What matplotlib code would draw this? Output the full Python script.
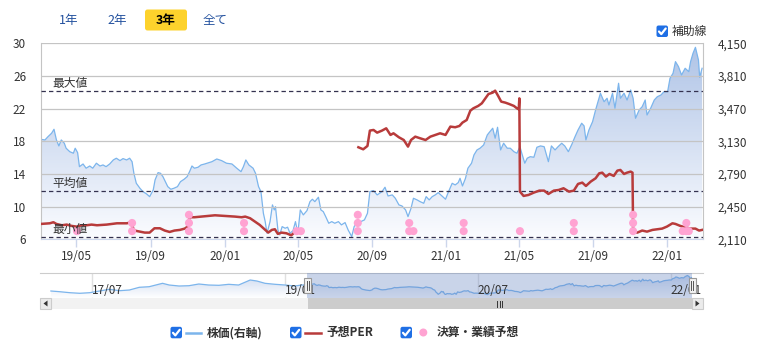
import numpy as np
import pandas as pd
import matplotlib
matplotlib.use("Agg")
import matplotlib.pyplot as plt
import matplotlib.dates as mdates
from matplotlib.colors import LinearSegmentedColormap
from matplotlib.patches import Polygon, Rectangle, FancyBboxPatch
from matplotlib.lines import Line2D
from matplotlib.transforms import Affine2D, blended_transform_factory
from matplotlib.ticker import FuncFormatter

plt.rcParams['font.family'] = ['Noto Sans CJK JP', 'DejaVu Sans']

W, H = 765, 356

# ---- data ----
start = pd.Timestamp('2019-03-03')

# stock price (right axis), days since start
price_day = [0, 7, 12, 18, 22, 26, 30, 34, 39, 42, 48, 54, 57, 61, 64, 70, 75, 81, 86, 92,
             98, 103, 108, 114, 120, 125, 131, 136, 142, 147, 151, 154, 158, 164, 169, 175, 180, 186, 189, 194,
             198, 202, 206, 210, 215, 220, 226, 231, 237, 242, 246, 250, 254, 260, 265, 271, 283, 291, 299, 307,
             316, 324, 331, 335, 339, 344, 351, 355, 360, 364, 368, 371, 374, 379, 383, 386, 388, 392, 395, 399,
             404, 408, 412, 417, 421, 425, 429, 434, 440, 445, 449, 453, 459, 463, 467, 471, 476, 481, 486, 492,
             497, 503, 508, 514, 518, 524, 529, 535, 540, 544, 550, 556, 564, 569, 574, 581, 586, 592, 597, 603,
             607, 612, 616, 622, 627, 633, 637, 642, 647, 652, 657, 663, 669, 674, 680, 685, 690, 693, 697, 702,
             706, 712, 716, 721, 726, 732, 738, 741, 747, 751, 755, 760, 765, 771, 776, 782, 787, 792, 795, 800,
             804, 809, 815, 820, 826, 832, 839, 844, 850, 855, 861, 866, 872, 878, 883, 888, 894, 898, 901, 906,
             912, 917, 921, 925, 931, 936, 939, 945, 949, 955, 958, 964, 969, 975, 979, 983, 989, 994, 999, 1002,
             1008, 1014, 1019, 1025, 1030, 1036, 1040, 1045, 1049, 1054, 1059, 1065, 1071, 1074, 1078, 1082, 1087, 1089, 1093]
price = [3151, 3144, 3178, 3214, 3255, 3144, 3082, 3144, 3110, 3058, 3022, 3006, 3058, 3012, 2866, 2894, 2850, 2873, 2850, 2902,
         2873, 2884, 2866, 2894, 2936, 2954, 2929, 2950, 2936, 2954, 2918, 2797, 2693, 2641, 2606, 2582, 2554, 2624, 2728, 2804,
         2797, 2762, 2710, 2658, 2631, 2641, 2658, 2710, 2735, 2762, 2814, 2873, 2850, 2860, 2884, 2894, 2918, 2946, 2929, 2902,
         2894, 2850, 2814, 2866, 2936, 2884, 2850, 2797, 2658, 2606, 2381, 2294, 2173, 2294, 2468, 2416, 2450, 2208, 2156, 2242,
         2225, 2236, 2173, 2200, 2294, 2173, 2416, 2364, 2408, 2502, 2527, 2502, 2548, 2416, 2398, 2346, 2277, 2294, 2277, 2294,
         2260, 2284, 2208, 2138, 2242, 2294, 2294, 2312, 2381, 2606, 2617, 2572, 2606, 2652, 2561, 2572, 2537, 2468, 2457, 2416,
         2346, 2433, 2537, 2520, 2502, 2485, 2554, 2520, 2554, 2572, 2596, 2561, 2527, 2606, 2693, 2676, 2700, 2745, 2665, 2745,
         2850, 2902, 2988, 3040, 3058, 3092, 3196, 3220, 3266, 3162, 3276, 3040, 3110, 3058, 3058, 3022, 3006, 3074, 3006, 2902,
         2954, 2970, 2964, 3068, 3082, 3074, 2918, 3082, 3040, 3074, 3110, 3082, 3022, 3102, 3178, 3248, 3318, 3290, 3144, 3248,
         3334, 3456, 3542, 3630, 3542, 3578, 3508, 3630, 3474, 3734, 3578, 3630, 3560, 3664, 3578, 3370, 3456, 3490, 3560, 3404,
         3474, 3560, 3594, 3612, 3646, 3646, 3786, 3838, 3959, 3907, 3820, 3890, 3855, 3959, 4046, 4108, 3976, 3796, 3890]

# forecast PER (left axis), None = no value
per_day = [0, 7, 15, 21, 26, 35, 43, 51, 60, 68, 76, 84, 93, 101, 109, 117, 126, 134, 142, 148,
           155, 164, 172, 180, 188, 197, 205, 213, 221, 230, 238, 243, 246, 254, 265, 276, 288, 305, 321, 332,
           338, 346, 354, 362, 371, 376, 382, 387, 392, 398, 406, 414, 419, 423, 470,
           525, 533, 540, 544, 550, 556, 564, 571, 578, 583, 592, 600, 607, 612, 619, 627, 636, 644, 652, 660,
           669, 677, 685, 692, 697, 704, 710, 715, 723, 729, 735, 740, 747, 751, 756, 761, 768, 774, 782, 787,
           790, 791, 792, 798, 806, 815, 824, 832, 839, 848, 856, 864, 873, 881, 888, 895, 901, 909, 917, 923,
           928, 934, 940, 947, 953, 958, 964, 969, 975, 978, 979, 986, 994, 1002, 1011, 1019, 1027, 1035, 1044, 1049,
           1057, 1065, 1074, 1082, 1088, 1093]
per = [7.88, 7.92, 7.96, 8.09, 7.88, 7.72, 7.80, 7.64, 7.55, 7.72, 7.72, 7.80, 7.72, 7.76, 7.80, 7.88, 7.96, 7.96, 7.96, 8.04,
       7.07, 6.94, 6.82, 6.82, 7.35, 7.35, 7.07, 6.90, 7.07, 7.15, 7.31, 7.56, 8.70, 8.70, 8.78, 8.86, 8.94, 8.86, 8.78, 8.70,
       8.78, 8.58, 8.17, 7.76, 7.15, 6.82, 7.15, 7.23, 6.66, 6.82, 6.74, 6.49, 6.82, 7.07, None,
       17.27, 17.02, 17.43, 19.31, 19.39, 19.06, 19.31, 19.59, 18.78, 18.98, 18.49, 18.16, 17.35, 18.16, 18.57, 18.37, 18.16, 18.57, 18.78, 18.98,
       18.78, 19.80, 19.72, 19.88, 20.29, 20.61, 21.75, 22.04, 22.33, 22.65, 23.26, 23.79, 23.96, 24.20, 23.55, 22.86, 22.73, 22.57, 22.33, 22.04,
       21.92, 23.26, 11.84, 11.31, 11.43, 11.72, 11.96, 11.96, 11.55, 11.96, 12.04, 12.25, 11.84, 11.96, 12.78, 12.94, 12.53, 13.07, 13.47, 14.08,
       14.16, 13.68, 14.00, 13.76, 14.41, 14.49, 14.00, 14.16, 14.29, 14.16, 6.94, 6.82, 7.07, 6.94, 7.15, 7.23, 7.31, 7.56, 7.96, 7.88,
       7.64, 7.47, 7.31, 7.31, 7.07, 7.15]

per_max, per_avg, per_min = 24.1, 11.9, 6.3

# earnings / forecast events: day and number of stacked dots
event_day = [60, 151, 245, 336, 423, 430, 524, 609, 616, 699, 792, 881, 979, 1061, 1067, 1071]
event_count = [1, 2, 3, 2, 1, 1, 3, 2, 1, 2, 1, 2, 3, 1, 2, 1]

# price history shown only in the navigator
hist_date = ['2017-03-07', '2017-04-01', '2017-04-30', '2017-05-28', '2017-06-25', '2017-07-23', '2017-08-20',
             '2017-09-18', '2017-10-16', '2017-11-13', '2017-12-11', '2018-01-18', '2018-02-06', '2018-03-06',
             '2018-04-03', '2018-05-01', '2018-05-29', '2018-06-27', '2018-07-25', '2018-08-22', '2018-09-24',
             '2018-10-13', '2018-11-05', '2018-12-04', '2019-01-01', '2019-01-29', '2019-02-17']
hist_price = [2510, 2438, 2335, 2274, 2335, 2510, 2686, 2541, 2614, 2892, 2953, 3304, 3128, 3025,
              3056, 3232, 3128, 3097, 3200, 3128, 3644, 3540, 3304, 3200, 3128, 3025, 3128]

left_ticks = [6, 10, 14, 18, 22, 26, 30]
right_ticks = [2110, 2450, 2790, 3130, 3470, 3810, 4150]
nav_labels = ['2017-07-01', '2019-01-01', '2020-07-01', '2022-01-01']
range_buttons = ['1年', '2年', '3年', '全て']

view = (pd.Timestamp('2019-03-03'), pd.Timestamp('2022-03-02'))
nav_view = (pd.Timestamp('2017-02-04'), pd.Timestamp('2022-04-02'))

# ---- colours ----
BLUE = '#7cb5ec'
RED = '#b83b3b'
PINK = '#ffa3d2'
GRID = '#c4c4c4'
CHECK = '#1f6fe5'

fig = plt.figure(figsize=(W / 100, H / 100), dpi=100)
P = Affine2D().scale(1 / 100, -1 / 100).translate(0, H / 100) + fig.dpi_scale_trans


def box(x0, y0, x1, y1):
    return [x0 / W, 1 - y1 / H, (x1 - x0) / W, (y1 - y0) / H]


def gradient_fill(axis, xs, ys, bottom, top, c_top, c_bot, z):
    cmap = LinearSegmentedColormap.from_list('g', [c_bot, c_top])
    verts = np.column_stack([np.r_[xs[0], xs, xs[-1]], np.r_[bottom, ys, bottom]])
    poly = Polygon(verts, closed=True, facecolor='none', edgecolor='none')
    axis.add_patch(poly)
    grad = np.linspace(0, 1, 256).reshape(-1, 1)
    im = axis.imshow(grad, extent=[xs[0], xs[-1], bottom, top], origin='lower',
                     cmap=cmap, aspect='auto', zorder=z, interpolation='bicubic')
    im.set_clip_path(poly)


price_x = mdates.date2num(start + pd.to_timedelta(price_day, unit='D'))
per_x = mdates.date2num(start + pd.to_timedelta(per_day, unit='D'))
per_v = np.array(per, dtype=float)
xlim = mdates.date2num(view)

# ---- main chart ----
ax = fig.add_axes(box(40.7, 43.3, 703.3, 239.3))
ax2 = ax.twinx()
ax.set_zorder(ax2.get_zorder() + 1)
ax.patch.set_visible(False)

gradient_fill(ax2, price_x, np.array(price), 2110, 4150, '#aec3e6', '#fbfcff', 1)
ax2.plot(price_x, price, color=BLUE, lw=0.9, zorder=2)
ax2.set_ylim(2110, 4150)
ax2.set_yticks(right_ticks)
ax2.yaxis.set_major_formatter(FuncFormatter(lambda v, p: f'{v:,.0f}'))

ax.set_ylim(6, 30)
ax.set_yticks(left_ticks)
ax.grid(axis='y', color=GRID, lw=0.9, zorder=0)
ax.set_axisbelow(True)

for val, name in [(per_max, '最大値'), (per_avg, '平均値'), (per_min, '最小値')]:
    ax.axhline(val, color='#34324f', lw=0.9, ls=(0, (3.5, 2.5)), zorder=3)
    ax.annotate(name, xy=(0.017, val), xycoords=('axes fraction', 'data'),
                xytext=(0, 5.6), textcoords='offset points', va='center', ha='left',
                fontsize=8.5, color='#333333', zorder=6)

ax.plot(per_x, per_v, color=RED, lw=1.8, zorder=4)

ex, ey = [], []
for d, n in zip(event_day, event_count):
    for k in range(n):
        ex.append(mdates.date2num(start + pd.Timedelta(days=d)))
        ey.append(7 + k)
ax.scatter(ex, ey, s=34, color=PINK, edgecolors='none', zorder=5)

ax.set_xlim(xlim)
ax2.set_xlim(xlim)
ax.xaxis.set_major_locator(mdates.MonthLocator(bymonth=[1, 5, 9]))
ax.xaxis.set_major_formatter(mdates.DateFormatter('%y/%m'))

for a in (ax, ax2):
    for s in a.spines.values():
        s.set_visible(False)
ax.spines['left'].set_visible(True)
ax.spines['left'].set_color(GRID)
ax.spines['right'].set_visible(True)
ax.spines['right'].set_color(GRID)
ax.spines['bottom'].set_visible(True)
ax.spines['bottom'].set_color('#ccd6eb')
ax.tick_params(axis='y', length=0, pad=10.5, labelsize=8.5, labelcolor='#333333')
ax2.tick_params(axis='y', length=0, pad=10.5, labelsize=8.5, labelcolor='#333333')
ax.tick_params(axis='x', length=5.5, width=1, color='#ccd6eb', pad=2, labelsize=8.5, labelcolor='#333333')

# ---- navigator ----
nav = fig.add_axes(box(40, 273.3, 703, 297.7))
nav_x = np.r_[mdates.date2num(pd.to_datetime(hist_date)), price_x]
nav_y = np.r_[hist_price, price]
gradient_fill(nav, nav_x, nav_y, 1820, 4335, '#c9d7ef', '#ffffff', 1)
nav.plot(nav_x, nav_y, color=BLUE, lw=0.9, zorder=2)
nav.set_xlim(mdates.date2num(nav_view))
nav.set_ylim(1820, 4335)
nav.axvspan(xlim[0], xlim[1], color='#6685c2', alpha=0.35, lw=0, zorder=3)
tr = blended_transform_factory(nav.transData, nav.transAxes)
for d in nav_labels:
    dx = mdates.date2num(pd.Timestamp(d))
    nav.axvline(dx, color='#e0e0e0', lw=1, zorder=0.5)
    nav.text(dx, 0.3, pd.Timestamp(d).strftime('%y/%m'), transform=tr, fontsize=8.5,
             color='#333333', ha='left', va='center', zorder=4)
nav.set_xticks([])
nav.set_yticks([])
for s in nav.spines.values():
    s.set_visible(False)
nav.spines['top'].set_visible(True)
nav.spines['top'].set_color('#cccccc')

# navigator handles
for hx in (307.5, 692):
    fig.patches.append(Rectangle((hx - 3.5, 277.7), 7, 15, transform=P, facecolor='#f2f2f2',
                                 edgecolor='#999999', lw=0.8, zorder=10))
    for lx in (hx - 1, hx + 1):
        fig.lines.append(Line2D([lx, lx], [281, 289.5], transform=P, color='#555555', lw=0.7, zorder=11))

# scrollbar
fig.patches.append(Rectangle((40, 297.7), 663, 11.6, transform=P, facecolor='#f2f2f2', edgecolor='none'))
fig.patches.append(Rectangle((307.5, 297.7), 384.5, 11.6, transform=P, facecolor='#cccccc', edgecolor='none'))
for bx in (40, 692):
    fig.patches.append(Rectangle((bx, 297.7), 11, 11.6, transform=P, facecolor='#ebebeb',
                                 edgecolor='#cccccc', lw=0.8))
fig.patches.append(Polygon([[47.5, 300.5], [47.5, 306.5], [43.5, 303.5]], closed=True, transform=P,
                           facecolor='#333333', edgecolor='none'))
fig.patches.append(Polygon([[695.5, 300.5], [695.5, 306.5], [699.5, 303.5]], closed=True, transform=P,
                           facecolor='#333333', edgecolor='none'))
for gx in (497, 499.5, 502):
    fig.lines.append(Line2D([gx, gx], [300.5, 306.5], transform=P, color='#333333', lw=0.7))

# ---- range buttons ----
btn_x = [68.8, 117, 166, 214.7]
fig.patches.append(FancyBboxPatch((145, 9.5), 42, 21, boxstyle='round,pad=0,rounding_size=2.5',
                                  transform=P, facecolor='#fdd22c', edgecolor='none'))
for bx, lab in zip(btn_x, range_buttons):
    sel = lab == '3年'
    fig.text(bx, 20.3, lab, transform=P, ha='center', va='center', fontsize=9,
             color='#000000' if sel else '#23519e', fontweight='bold' if sel else 'normal')


def checkbox(x, y):
    fig.patches.append(FancyBboxPatch((x, y), 11.5, 11.5, boxstyle='round,pad=0,rounding_size=2',
                                      transform=P, facecolor=CHECK, edgecolor='none'))
    fig.lines.append(Line2D([x + 2.5, x + 4.8, x + 9.2], [y + 6.0, y + 8.6, y + 3.0], transform=P,
                            color='white', lw=1.6, solid_capstyle='round', solid_joinstyle='round'))


checkbox(656.5, 25.5)
fig.text(671.5, 31.3, '補助線', transform=P, ha='left', va='center', fontsize=8.5, color='#333333')

# ---- legend ----
checkbox(170.5, 326.8)
fig.lines.append(Line2D([186, 200.5], [332.5, 332.5], transform=P, color=BLUE, lw=1.8))
fig.text(207, 332.8, '株価(右軸)', transform=P, ha='left', va='center', fontsize=8.5,
         color='#333333', fontweight='bold')
checkbox(290, 326.8)
fig.lines.append(Line2D([305.3, 320.7], [332.5, 332.5], transform=P, color=RED, lw=1.8))
fig.text(326, 332.8, '予想PER', transform=P, ha='left', va='center', fontsize=8.5,
         color='#333333', fontweight='bold')
checkbox(400.5, 326.8)
fig.patches.append(matplotlib.patches.Circle((423.3, 332.5), 4, transform=P, facecolor=PINK, edgecolor='none'))
fig.text(437, 332.8, '決算・業績予想', transform=P, ha='left', va='center', fontsize=8.5,
         color='#333333', fontweight='bold')

fig.savefig('out.png', dpi=100, facecolor='white')
